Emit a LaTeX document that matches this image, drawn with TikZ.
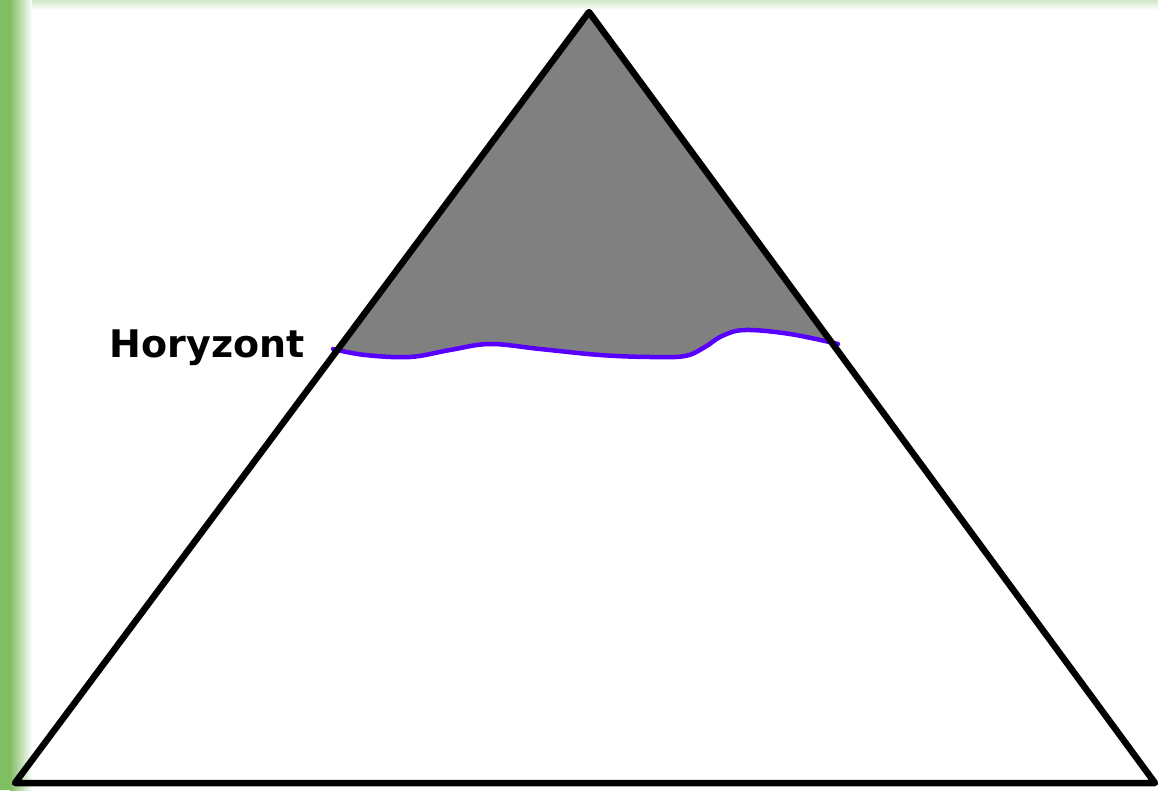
\documentclass[tikz,border=0pt]{standalone}
\usepackage{fontspec}
\setsansfont{DejaVu Sans}
\usetikzlibrary{positioning}
\definecolor{leafgreen}{RGB}{128,190,98}
\definecolor{horblue}{RGB}{88,0,255}
\definecolor{peakgray}{RGB}{128,128,128}
\tikzset{
  edge/.style={draw=black,line width=6.5pt,line join=round},
  horizon/.style={draw=horblue,line width=4.5pt,line cap=round},
  lbl/.style={font=\sffamily\bfseries\fontsize{38}{44}\selectfont,inner sep=0pt}
}

\begin{document}
\begin{tikzpicture}[x=1pt,y=-1pt]
\useasboundingbox (0,0) rectangle (1158,790);
\fill[white] (0,0) rectangle (1158,790);
\fill[leafgreen] (0,0) rectangle (10,790);
\shade[left color=leafgreen,right color=white] (10,0) rectangle (32,790);
\shade[top color=leafgreen!35,bottom color=white] (32,0) rectangle (1158,10);
\coordinate (apex) at (589,12);
\coordinate (bl) at (15,783);
\coordinate (br) at (1155,783);
\coordinate (hl) at (333,349);
\coordinate (hr) at (838,344);
% grey cap above the horizon
\begin{scope}
\clip (bl) -- (apex) -- (br) -- cycle;
\fill[peakgray] plot[smooth,tension=0.6] coordinates {(hl) (365,355) (410,357) (450,350) (490,344) (540,349) (600,355) (650,357) (685,356) (705,347) (722,336) (745,330) (790,334) (hr)} -- (apex) -- cycle;
\end{scope}
\draw[horizon] plot[smooth,tension=0.6] coordinates {(hl) (365,355) (410,357) (450,350) (490,344) (540,349) (600,355) (650,357) (685,356) (705,347) (722,336) (745,330) (790,334) (hr)};
\draw[edge] (bl) -- (apex) -- (br) -- cycle;
\node[lbl,left=28pt of hl,anchor=base east,yshift=-8pt] (hlabel) {Horyzont};
\end{tikzpicture}
\end{document}
